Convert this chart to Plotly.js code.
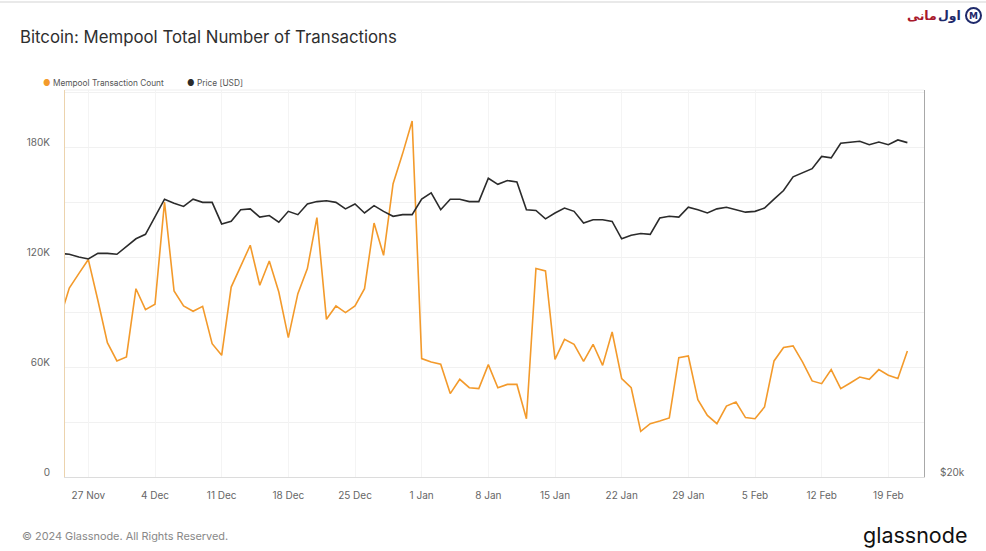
<!DOCTYPE html>
<html>
<head>
<meta charset="utf-8">
<script src="https://cdn.plot.ly/plotly-3.0.1.min.js"></script>
<style>
html,body{margin:0;padding:0;background:#fff;}
#chart{width:986px;height:551px;}
</style>
</head>
<body>
<div id="chart"></div>
<script>
// ---- data ----
const startDate = [2023, 10, 24]; // 24 Nov 2023, daily points
const mempoolCount = [86200,103100,110900,118600,96400,73300,63300,65500,102700,91300,
  94200,150000,101500,93300,90400,93100,72700,66400,103600,115500,
  126400,104600,117800,100900,76000,100000,113700,141500,86000,93300,
  89700,93300,102700,138500,120900,160000,176400,194200,64600,62700,
  61500,45500,53300,48700,48200,61300,48700,50500,50500,31800,
  113700,112400,64200,75100,72400,63100,72400,60900,79100,53700,
  48700,24900,29100,30500,32200,65100,66000,42200,33600,29100,
  38700,40900,32400,31800,38200,63300,70600,71500,62700,52400,
  50900,58600,48200,51300,54500,53300,58600,55500,53700,68700];
const priceUSD = [37800,37700,37400,37200,37800,37800,37700,38500,39400,39900,
  41900,44100,43600,43200,44100,43700,43700,41100,41400,42800,
  42900,41900,42100,41300,42600,42200,43500,43800,43900,43700,
  42900,43500,42400,43300,42600,42000,42200,42200,44100,44900,
  42800,44100,44100,43800,43800,46800,46000,46500,46300,42800,
  42700,41700,42400,43000,42600,41200,41600,41600,41400,39400,
  39800,40000,39900,41800,42000,41900,43100,42800,42400,42900,
  43100,42800,42500,42600,43000,44100,45200,47000,47600,48100,
  49800,49600,51700,51800,52000,51500,51900,51500,52200,51800];
const leftTickVals = [0, 60000, 120000, 180000];
const leftTickText = ['0', '60K', '120K', '180K'];
const rightTickVals = [20000];
const rightTickText = ['$20k'];
const seriesNames = ['Mempool Transaction Count', 'Price [USD]'];

const dates = mempoolCount.map((_, i) => {
  const d = new Date(Date.UTC(startDate[0], startDate[1], startDate[2] + i));
  return d.toISOString().slice(0, 10);
});

const ORANGE = '#F39A2B';
const DARK = '#2b2b2b';
const FONT = 'Inter, "Open Sans", sans-serif';

const traces = [
  {x: dates, y: mempoolCount, type: 'scatter', mode: 'lines', name: seriesNames[0],
   line: {color: ORANGE, width: 1.6}, yaxis: 'y', showlegend: false},
  {x: dates, y: priceUSD, type: 'scatter', mode: 'lines', name: seriesNames[1],
   line: {color: DARK, width: 1.6}, yaxis: 'y2', showlegend: false}
];

const plotH = 387;
const PW = 859;
const layout = {
  width: 986, height: 551,
  margin: {l: 65, r: 62, t: 90, b: 74},
  paper_bgcolor: '#fff', plot_bgcolor: '#fff',
  font: {family: FONT, color: '#666', size: 10},
  showlegend: false,
  title: {text: 'Bitcoin: Mempool Total Number of Transactions',
    font: {family: FONT, size: 16.8, color: '#2e2e2e'},
    x: 20/986, xanchor: 'left', xref: 'container',
    y: 1 - 37/551, yanchor: 'middle', yref: 'container'},
  xaxis: {
    type: 'date',
    range: ['2023-11-24 13:12', '2024-02-22 17:53'],
    tick0: '2023-11-27', dtick: 7*24*3600*1000,
    tickformat: '%-d %b',
    showgrid: true, gridcolor: '#f4f4f4', gridwidth: 1,
    showline: true, linecolor: '#dcdcdc', linewidth: 1,
    ticks: '', ticklabelstandoff: 9,
    tickfont: {size: 10, color: '#666'},
    zeroline: false
  },
  yaxis: {
    range: [0, plotH/110*60000],
    tickvals: leftTickVals, ticktext: leftTickText,
    showgrid: true, gridcolor: '#f1f1f1',
    minor: {showgrid: true, gridcolor: '#f1f1f1', tickvals: [30000, 90000, 150000, 210000]},
    showline: true, linecolor: '#ecd3ad', linewidth: 1,
    ticks: '', ticklabelstandoff: 12, ticklabelshift: -5,
    tickfont: {size: 10, color: '#666'},
    zeroline: false
  },
  yaxis2: {
    type: 'log', overlaying: 'y', side: 'right',
    range: [Math.log10(20000), Math.log10(20000) + plotH/809],
    tickvals: rightTickVals, ticktext: rightTickText,
    showgrid: false, showline: true, linecolor: '#a8a8a8', linewidth: 1,
    ticks: '', ticklabelstandoff: 13, ticklabelshift: -5,
    tickfont: {size: 10, color: '#666'},
    zeroline: false
  },
  shapes: [
    {type: 'line', xref: 'paper', yref: 'paper', x0: -65/PW, x1: 921/PW,
     y0: 1 + 88/plotH, y1: 1 + 88/plotH, line: {color: '#e9e9e9', width: 2}},
    {type: 'line', xref: 'paper', yref: 'paper', x0: 0, x1: 1,
     y0: 1, y1: 1, line: {color: '#eeeeee', width: 1}},
    {type: 'circle', xref: 'paper', yref: 'paper',
     x0: (966-65)/PW, x1: (981-65)/PW, y0: 1 + (90-23)/plotH, y1: 1 + (90-8)/plotH,
     line: {color: '#1f2a6b', width: 2}}
  ],
  annotations: [
    // legend
    {xref: 'paper', yref: 'paper', x: (41-65)/PW, y: 1 + (90-83)/plotH, xanchor: 'left', yanchor: 'middle',
     showarrow: false, text: '<span style="color:' + ORANGE + '">●</span> ' + seriesNames[0],
     font: {family: FONT, size: 8.3, color: '#555'}},
    {xref: 'paper', yref: 'paper', x: (185-65)/PW, y: 1 + (90-83)/plotH, xanchor: 'left', yanchor: 'middle',
     showarrow: false, text: '<span style="color:' + DARK + '">●</span> ' + seriesNames[1],
     font: {family: FONT, size: 8.3, color: '#555'}},
    // footer
    {xref: 'paper', yref: 'paper', x: (20-65)/PW, y: -(535-476)/plotH, xanchor: 'left', yanchor: 'middle',
     showarrow: false, text: '© 2024 Glassnode. All Rights Reserved.',
     font: {family: FONT, size: 10.9, color: '#888'}},
    {xref: 'paper', yref: 'paper', x: (969-65)/PW, y: -(534-476)/plotH, xanchor: 'right', yanchor: 'middle',
     showarrow: false, text: 'glassnode',
     font: {family: FONT, size: 21.5, color: '#111'}},
    // top-right logo
    {xref: 'paper', yref: 'paper', x: (973.5-65)/PW, y: 1 + (90-15.5)/plotH, xanchor: 'center', yanchor: 'middle',
     showarrow: false, text: '<b>M</b>', font: {family: 'DejaVu Sans', size: 9, color: '#1f2a6b'}},
    {xref: 'paper', yref: 'paper', x: (963-65)/PW, y: 1 + (90-16)/plotH, xanchor: 'right', yanchor: 'middle',
     showarrow: false, text: '<b>اول</b>', font: {family: 'DejaVu Sans', size: 12.5, color: '#1f2a6b'}},
    {xref: 'paper', yref: 'paper', x: (939-65)/PW, y: 1 + (90-16)/plotH, xanchor: 'right', yanchor: 'middle',
     showarrow: false, text: '<b>مانی</b>', font: {family: 'DejaVu Sans', size: 12.5, color: '#a8182b'}}
  ]
};

Plotly.newPlot('chart', traces, layout, {displayModeBar: false, staticPlot: true});
</script>
</body>
</html>
